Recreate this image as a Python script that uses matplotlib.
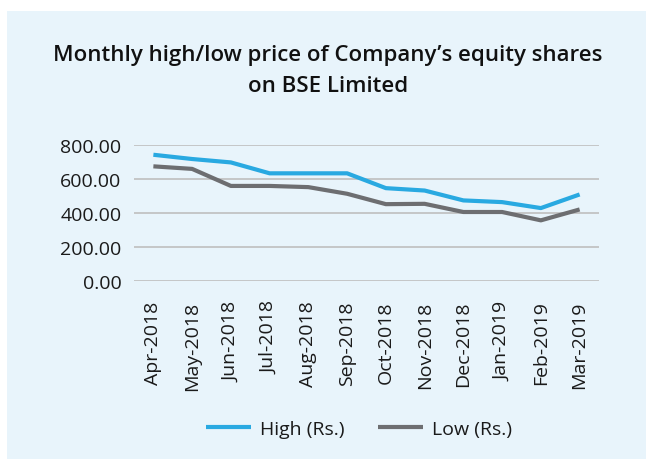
import matplotlib.pyplot as plt
from matplotlib.patches import Rectangle

# data
months = ["Apr-2018", "May-2018", "Jun-2018", "Jul-2018", "Aug-2018", "Sep-2018",
          "Oct-2018", "Nov-2018", "Dec-2018", "Jan-2019", "Feb-2019", "Mar-2019"]
high = [741, 716, 696, 632, 632, 632, 545, 531, 473, 463, 428, 508]
low = [673, 658, 558, 558, 551, 512, 451, 453, 405, 405, 356, 420]
yticks = [0, 200, 400, 600, 800]

bg = "#E8F4FB"
blue = "#29A9E1"
grey = "#6D6E71"

plt.rcParams['font.family'] = ['Open Sans', 'DejaVu Sans']

fig = plt.figure(figsize=(6.46, 4.6), dpi=100)
fig.patch.set_facecolor("white")
fig.patches.append(Rectangle((7 / 646, 0), 1, 1 - 12 / 460, transform=fig.transFigure,
                             facecolor=bg, edgecolor="none", zorder=-10))

ax = fig.add_axes([134 / 646, 1 - 282 / 460, (599 - 134) / 646, (282 - 145.7) / 460])
ax.set_facecolor(bg)
ax.patch.set_alpha(0)

x = range(len(months))
ax.plot(x, high, color=blue, lw=3, label="High (Rs.)", solid_capstyle="butt", zorder=3)
ax.plot(x, low, color=grey, lw=3, label="Low (Rs.)", solid_capstyle="butt", zorder=3)

ax.set_xlim(-0.5, len(months) - 0.5)
ax.set_ylim(0, 800)
ax.set_yticks(yticks)
ax.set_yticklabels(["%.2f" % v for v in yticks], fontsize=14, color="#1a1a1a")
ax.set_xticks(list(x))
ax.set_xticklabels(months, rotation=90, fontsize=14, color="#1a1a1a")
ax.tick_params(length=0)
ax.tick_params(axis="y", pad=9)
ax.tick_params(axis="x", pad=14)
ax.grid(axis="y", color="#BEBEBE", lw=1.2)
ax.set_axisbelow(True)
for s in ax.spines.values():
    s.set_visible(False)

fig.text(0.508, 1 - 71 / 460, "Monthly high/low price of Company’s equity shares\non BSE Limited",
         ha="center", va="center", fontsize=16, fontweight="semibold", linespacing=1.6,
         color="#111111")

fig.legend(loc="center", bbox_to_anchor=(359 / 646, 1 - 430 / 460), ncol=2, frameon=False,
           fontsize=14, handlelength=2.3, handletextpad=0.5, columnspacing=1.7,
           labelcolor="#1a1a1a")

fig.savefig("out.png", dpi=100, facecolor=fig.get_facecolor())
